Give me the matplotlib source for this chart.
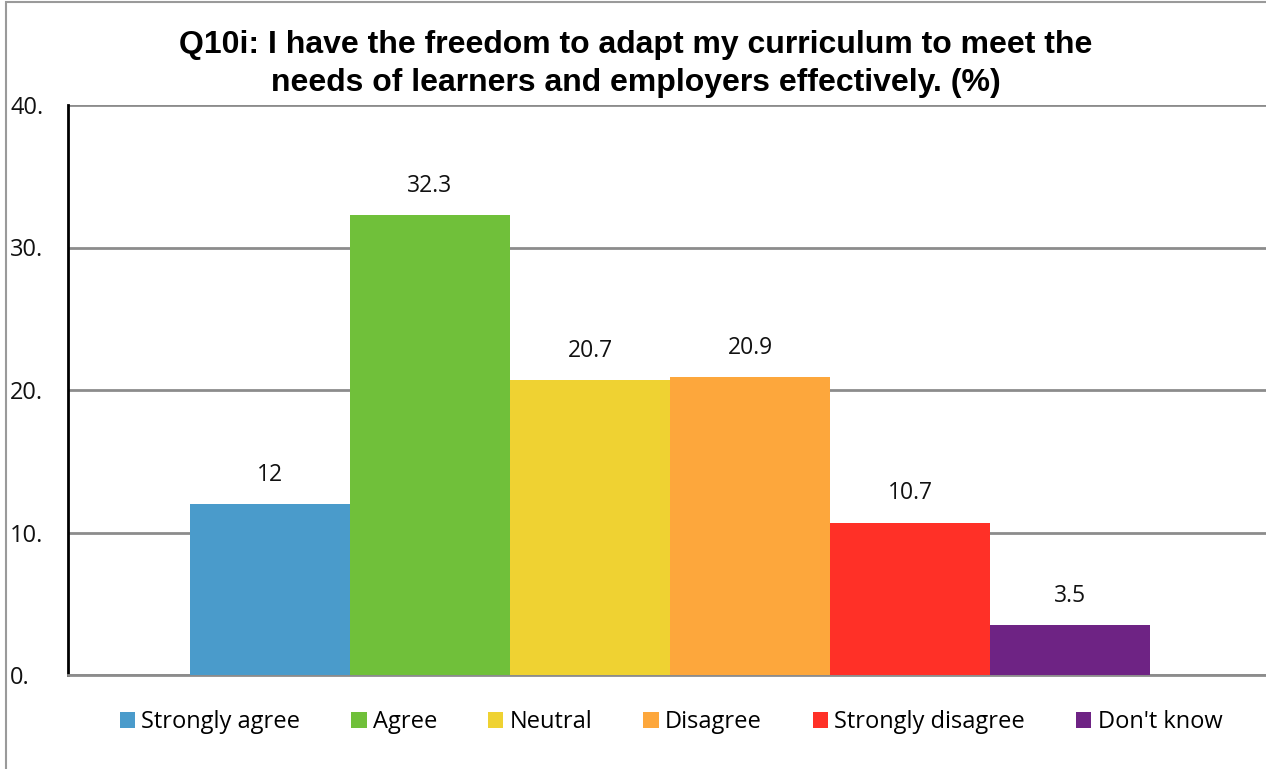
import matplotlib
matplotlib.use("Agg")
import matplotlib.pyplot as plt
from matplotlib.patches import Rectangle

# Survey responses (%)
categories = ["Strongly agree", "Agree", "Neutral", "Disagree", "Strongly disagree", "Don't know"]
values = [12, 32.3, 20.7, 20.9, 10.7, 3.5]
value_labels = ["12", "32.3", "20.7", "20.9", "10.7", "3.5"]
colors = ["#4A9BCB", "#70C03A", "#EFD232", "#FDA73C", "#FF3027", "#6E2384"]
yticks = [0, 10, 20, 30, 40]
ytick_labels = ["0.", "10.", "20.", "30.", "40."]
title = "Q10i: I have the freedom to adapt my curriculum to meet the\nneeds of learners and employers effectively. (%)"

W, H = 1266, 769
fig = plt.figure(figsize=(W / 100, H / 100), dpi=100)
fig.patch.set_facecolor("white")

# outer chart border
fig.patches.append(Rectangle((6 / W, -0.1), 2, 1.1 - 2 / H, transform=fig.transFigure,
                             fill=False, edgecolor="#9a9a9a", linewidth=1.5))

ax_l, ax_r, ax_t, ax_b = 68, 1272, 105, 675
ax = fig.add_axes([ax_l / W, 1 - ax_b / H, (ax_r - ax_l) / W, (ax_b - ax_t) / H])
ax.set_xlim(0, 1)
ax.set_ylim(0, 40)

bar_w = 160 / (ax_r - ax_l)
n = len(values)
x0 = 0.5 - bar_w * n / 2 + bar_w / 2
handles = []
for i, (v, c, lab, cat) in enumerate(zip(values, colors, value_labels, categories)):
    b = ax.bar(x0 + i * bar_w, v, width=bar_w, color=c, label=cat, zorder=3)
    handles.append(b)
    ax.text(x0 + i * bar_w, v + 2.05, lab, ha="center", va="center",
            fontsize=16.5, family="Open Sans", color="#111111")

ax.set_yticks(yticks)
ax.set_yticklabels(ytick_labels, fontsize=17, family="Open Sans", color="#111111")
for t in ax.get_yticklabels():
    t.set_horizontalalignment("left")
ax.tick_params(axis="y", length=0, pad=(ax_l - 10) * 0.72)
ax.set_xticks([])
ax.yaxis.grid(True, color="#8c8c8c", linewidth=2, zorder=0)
ax.set_axisbelow(True)
for s in ["top", "right"]:
    ax.spines[s].set_visible(False)
ax.spines["left"].set_color("black")
ax.spines["left"].set_linewidth(2)
ax.spines["bottom"].set_color("#8c8c8c")
ax.spines["bottom"].set_linewidth(2)

fig.text(636 / W, 1 - 64 / H, title, ha="center", va="center", fontsize=23,
         fontweight="bold", family="Liberation Sans", linespacing=1.33)

fig.legend(handles=handles, labels=categories, loc="center", ncol=6,
           bbox_to_anchor=(671 / W, 1 - 722 / H), frameon=False,
           prop={"family": "Open Sans", "size": 17},
           handlelength=0.65, handleheight=0.65, handletextpad=0.27, columnspacing=2.15)

fig.savefig("out.png", dpi=100, facecolor="white")
